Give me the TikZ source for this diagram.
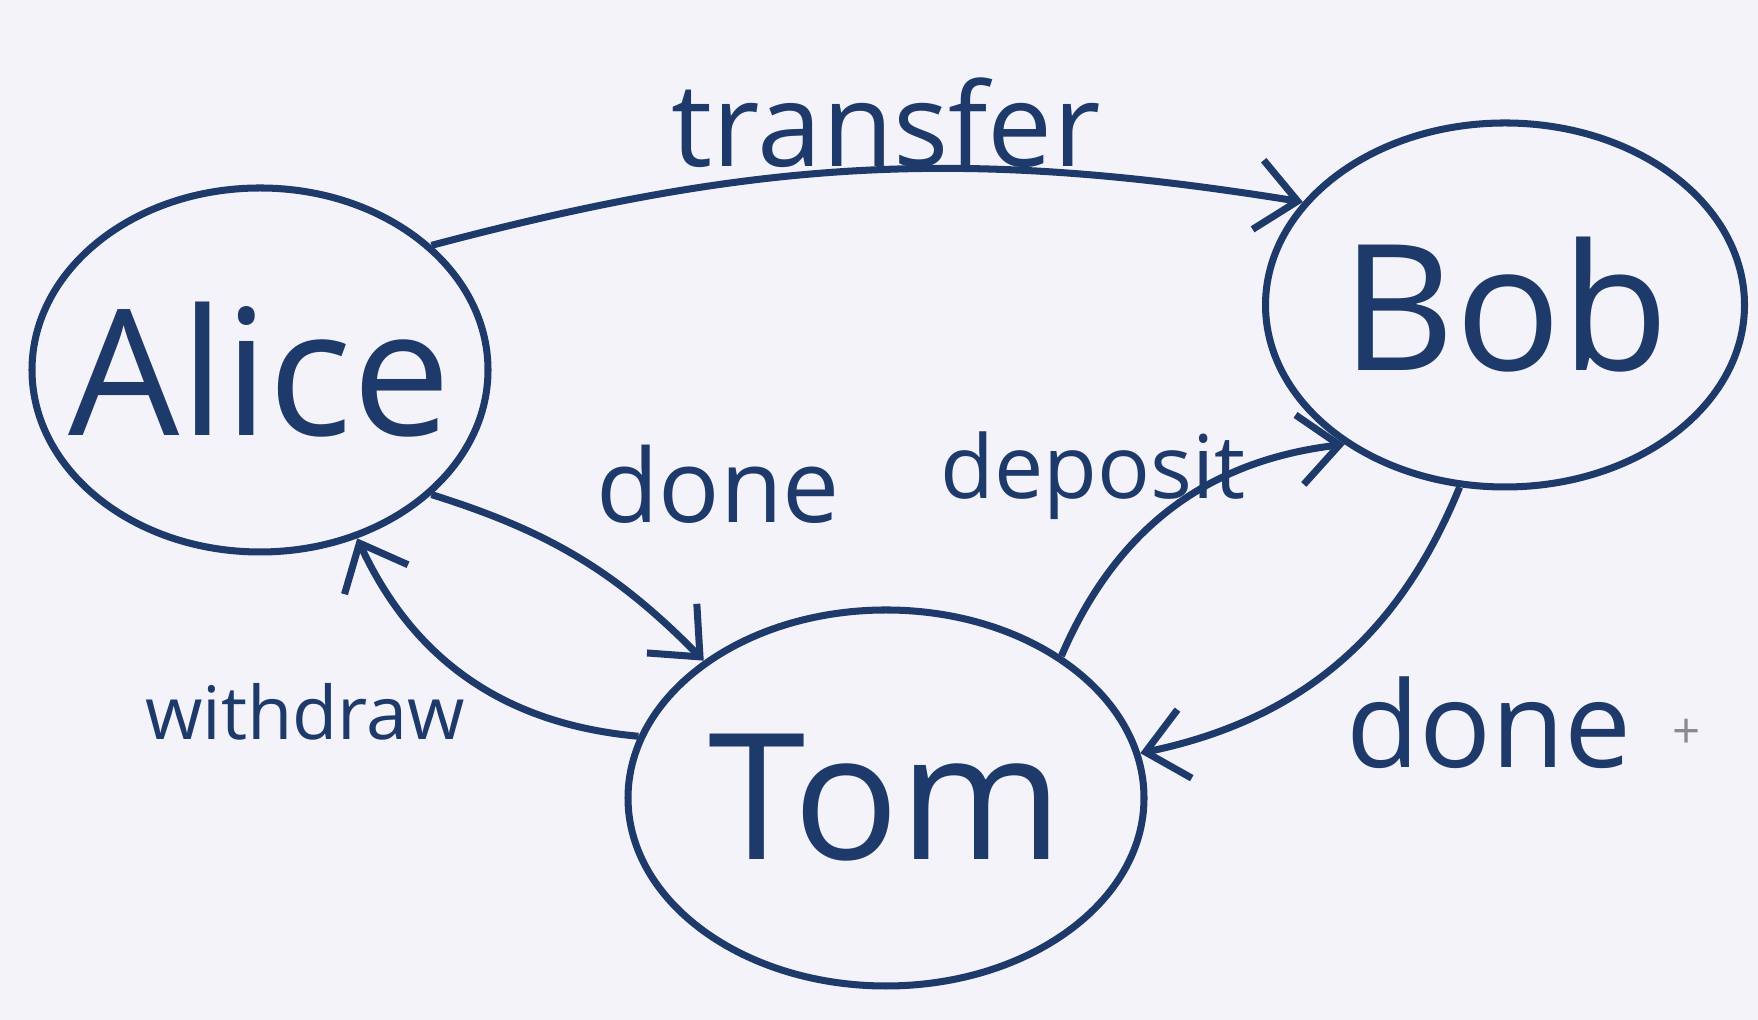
\documentclass[tikz,border=0pt]{standalone}
\usepackage{fontspec}
\setmainfont{Open Sans}
\usepackage{tikz}
\usetikzlibrary{shapes.geometric}
\usetikzlibrary{arrows.meta}

\begin{document}
\begin{tikzpicture}[
    statetext/.style={text=ink, inner sep=0pt, font=\fontsize{50}{50}\selectfont},
    state/.style={draw=ink, ellipse, line width=2pt, inner sep=0pt,
      label={[statetext]center:#1}},
    trans/.style={draw=ink, line width=2pt,
      -{Straight Barb[length=4mm,width=7mm,line width=2pt]}},
    lbl/.style={text=ink, inner sep=0pt}
  ]
      \definecolor{ink}{HTML}{1E3A6A}
      \definecolor{paper}{HTML}{F4F3F9}
      \definecolor{cursor}{HTML}{8A8A90}
      \fill[paper] (0,0) rectangle (17.58,10.20);
      \useasboundingbox (0,0) rectangle (17.58,10.20);
      \node[state=Alice, minimum width=4.56cm, minimum height=3.64cm] (alice) at (2.60,6.50) {};
      \node[state=Bob, minimum width=4.79cm, minimum height=3.64cm] (bob) at (15.05,7.15) {};
      \node[state=Tom, minimum width=5.16cm, minimum height=3.76cm] (tom) at (8.86,2.22) {};
      \draw[trans] (alice.36) to[bend left=12] (bob.153);
      \draw[trans] (alice.-36) to[bend left=14] (tom.143);
      \draw[trans] (tom.166) to[bend left=30] (alice.-60);
      \draw[trans] (tom.39) to[bend left=30] (bob.221);
      \draw[trans] (bob.-104) to[bend left=28] (tom.10);
      \node[lbl, font=\fontsize{33}{33}\selectfont] (ltransfer) at (8.86,8.97) {transfer};
      \node[lbl, font=\fontsize{29}{29}\selectfont] (ldone) at (7.18,5.36) {done};
      \node[lbl, font=\fontsize{25}{25}\selectfont] (ldeposit) at (10.93,5.44) {deposit};
      \node[lbl, font=\fontsize{21}{21}\selectfont] (lwithdraw) at (3.05,3.08) {withdraw};
      \node[lbl, font=\fontsize{34}{34}\selectfont] (ldonetwo) at (14.89,2.97) {done};
      \node[text=cursor, font=\fontsize{14}{14}\selectfont, inner sep=0pt] (cursor) at (16.87,2.86) {+};
    \end{tikzpicture}
\end{document}
